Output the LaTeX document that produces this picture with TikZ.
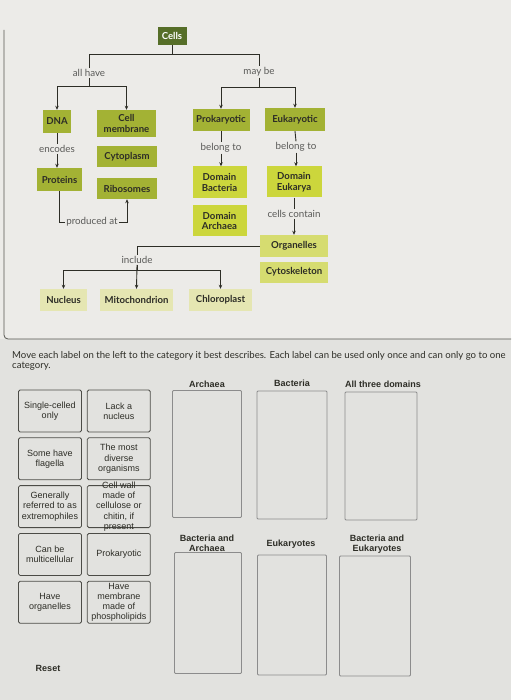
\documentclass[tikz,border=0pt]{standalone}
\usepackage{fontspec}
\setmainfont{Lato}
\newfontfamily\tilefont{Liberation Sans}
\usetikzlibrary{arrows.meta,positioning}
\definecolor{bgpage}{RGB}{226,226,223}
\definecolor{bgpanel}{RGB}{236,235,232}
\definecolor{gdark}{RGB}{86,110,40}
\definecolor{golive}{RGB}{163,178,52}
\definecolor{glime}{RGB}{204,214,60}
\definecolor{gpale}{RGB}{214,220,112}
\definecolor{gcream}{RGB}{229,230,178}
\definecolor{inkdark}{RGB}{45,45,38}
\definecolor{inkgray}{RGB}{90,90,88}
\tikzset{
  cbox/.style={inner sep=1pt, align=center, text=inkdark,
    font=\fontsize{9.6}{10.5}\selectfont\bfseries},
  rootbox/.style={cbox, fill=gdark, text=white},
  olivebox/.style={cbox, fill=golive},
  limebox/.style={cbox, fill=glime},
  palebox/.style={cbox, fill=gpale},
  creambox/.style={cbox, fill=gcream},
  link/.style={font=\fontsize{9.8}{11}\selectfont, text=inkgray, inner sep=1pt},
  conn/.style={draw=inkdark, line width=0.9pt},
  arr/.style={conn, -{Stealth[length=4pt,width=3.5pt]}},
  tile/.style={draw=inkdark!85, rounded corners=1.5pt, line width=0.8pt,
    align=center, text=inkdark, inner sep=0pt,
    minimum width=63, minimum height=42,
    font=\tilefont\fontsize{9}{10.2}\selectfont},
  tiletext/.style={align=center, text=inkdark, inner sep=0pt,
    font=\tilefont\fontsize{9}{10.2}\selectfont},
  drop/.style={draw=gray!90, line width=0.8pt, rounded corners=1pt},
  head/.style={font=\tilefont\bfseries\fontsize{9}{9.8}\selectfont,
    text=inkdark, align=center, inner sep=0pt}
}

\begin{document}
\begin{tikzpicture}[x=1pt, y=-1pt]
  \useasboundingbox (0,0) rectangle (511,700);
  \fill[bgpage] (0,0) rectangle (511,700);
  \fill[bgpanel] (0,0) rectangle (511,339);
  \draw[inkdark!80, line width=0.8pt, rounded corners=4pt] (4,30) -- (4,339) -- (511,339);

  % concept map
  \node[rootbox, minimum width=29, minimum height=18] (cells) at (172,36) {Cells};
  \node[link] (allhave) at (89,73) {all have};
  \node[link] (maybe) at (259,72) {may be};

  \node[olivebox, minimum width=28, minimum height=23] (dna) at (57,121.5) {DNA};
  \node[olivebox, minimum width=59, minimum height=27] (cellmem) at (126.5,123.5) {Cell\\membrane};
  \node[olivebox, minimum width=60, minimum height=21] (cyto) at (127,157) {Cytoplasm};
  \node[olivebox, minimum width=45, minimum height=23] (prot) at (59.5,179.5) {Proteins};
  \node[olivebox, minimum width=60, minimum height=21] (ribo) at (127,188.5) {Ribosomes};
  \node[link] (encodes) at (57,149) {encodes};
  \node[link] (prodat) at (92,222) {produced at};

  \node[olivebox, minimum width=57, minimum height=22] (prok) at (221,120) {Prokaryotic};
  \node[olivebox, minimum width=60, minimum height=23] (euk) at (295,119.5) {Eukaryotic};
  \node[link] (belongp) at (221,148) {belong to};
  \node[link] (belonge) at (296,147) {belong to};
  \node[limebox, minimum width=54, minimum height=32] (dbact) at (219.5,182.5) {Domain\\Bacteria};
  \node[limebox, minimum width=54, minimum height=31] (darch) at (219.5,221) {Domain\\Archaea};
  \node[limebox, minimum width=55, minimum height=31] (deuk) at (294,182) {Domain\\Eukarya};
  \node[link] (contain) at (294,214) {cells contain};
  \node[palebox, minimum width=68, minimum height=22] (organ) at (294,246) {Organelles};
  \node[palebox, minimum width=68, minimum height=21] (cytosk) at (294,272) {Cytoskeleton};

  \node[link] (include) at (137,260) {include};
  \node[creambox, minimum width=47, minimum height=22] (nucl) at (63.5,300) {Nucleus};
  \node[creambox, minimum width=73, minimum height=22] (mito) at (136.5,300) {Mitochondrion};
  \node[creambox, minimum width=63, minimum height=22] (chloro) at (220.5,300) {Chloroplast};

  \draw[conn] (cells.south) -- ++(0,9) coordinate (jtop);
  \draw[conn] (allhave.north) |- (jtop) -| (maybe.north);
  \draw[arr] (allhave.south) -- ++(0,9) -| (dna.north);
  \draw[arr] (allhave.south) ++(0,9) -| (cellmem.north);
  \draw[arr] (maybe.south) -- ++(0,10) -| (prok.north);
  \draw[arr] (maybe.south) ++(0,10) -| (euk.north);
  \draw[conn] (dna.south) -- (encodes.north);
  \draw[arr] (encodes.south) -- (encodes.south |- prot.north);
  \draw[conn] (prot.south) |- (prodat.west);
  \draw[arr] (prodat.east) -| (ribo.south);
  \draw[conn] (prok.south) -- (belongp.north);
  \draw[arr] (belongp.south) -- (belongp.south |- dbact.north);
  \draw[conn] (euk.south) -- (belonge.north);
  \draw[arr] (belonge.south) -- (belonge.south |- deuk.north);
  \draw[conn] (deuk.south) -- (contain.north);
  \draw[arr] (contain.south) -- (organ.north);
  \draw[conn] (organ.west) -| (include.north);
  \draw[arr] (include.south) -- ++(0,6) -| (nucl.north);
  \draw[arr] (include.south) -- (mito.north);
  \draw[arr] (include.south) ++(0,6) -| (chloro.north);

  % sorting exercise
  \node[anchor=north west, align=left, inner sep=0pt, text=inkdark,
    font=\fontsize{9.6}{10}\selectfont] (instr) at (12,351)
    {Move each label on the left to the category it best describes. Each label can be used only once and can only go to one\\category.};

  \node[tile] (t1) at (50,411) {Single-celled\\only};
  \node[tile, right=5pt of t1] (t2) {Lack a\\nucleus};
  \node[tile, below=5pt of t1] (t3) {Some have\\flagella};
  \node[tile, right=5pt of t3] (t4) {The most\\diverse\\organisms};
  \node[tile, below=5pt of t3] (t5) {Generally\\referred to as\\extremophiles};
  \node[tile, right=5pt of t5,
    label={[tiletext]center:Cell wall\\made of\\cellulose or\\chitin, if\\present}] (t6) {};
  \node[tile, below=5pt of t5] (t7) {Can be\\multicellular};
  \node[tile, right=5pt of t7] (t8) {Prokaryotic};
  \node[tile, below=5pt of t7] (t9) {Have\\organelles};
  \node[tile, right=5pt of t9] (t10) {Have\\membrane\\made of\\phospholipids};

  \node[head] (harch) at (207,384) {Archaea};
  \node[head] (hbact) at (292,383) {Bacteria};
  \node[head] (hall) at (383,384) {All three domains};
  \node[drop, minimum width=69, minimum height=127] (barch) at (207,454) {};
  \node[drop, minimum width=70, minimum height=128] (bbact) at (292,455) {};
  \node[drop, minimum width=72, minimum height=128] (ball) at (381,456) {};

  \node[head] (hba) at (207,543) {Bacteria and\\Archaea};
  \node[head] (heuk) at (291,544) {Eukaryotes};
  \node[head] (hbe) at (377,544) {Bacteria and\\Eukaryotes};
  \node[drop, minimum width=67, minimum height=121] (bba) at (208,613) {};
  \node[drop, minimum width=69, minimum height=120] (beuk) at (292,615) {};
  \node[drop, minimum width=71, minimum height=120] (bbe) at (375,616) {};

  \node[head] (reset) at (48,668) {Reset};
\end{tikzpicture}
\end{document}
